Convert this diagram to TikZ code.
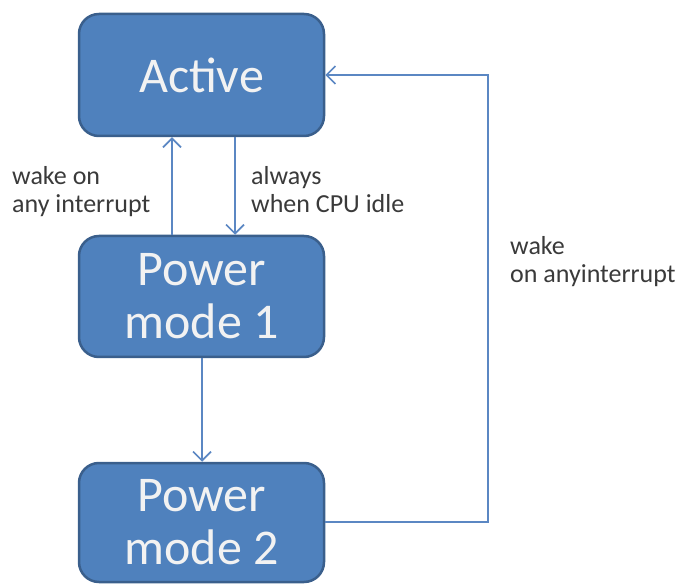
\documentclass[tikz,border=0pt]{standalone}
\usepackage{fontspec}
\setmainfont{Carlito}
\usetikzlibrary{arrows.meta}
\definecolor{boxfill}{HTML}{4F81BD}
\definecolor{boxline}{HTML}{3A5F8C}
\definecolor{linkc}{HTML}{5B87C3}
\definecolor{lblc}{HTML}{3A3A3A}
\begin{document}
\begin{tikzpicture}[x=1pt,y=-1pt,
  state/.style={draw=boxline, fill=boxfill, line width=2.5pt, rounded corners=20pt,
    minimum width=245pt, text=white!95!black, align=center,
    font=\fontsize{50}{53}\selectfont, inner sep=0pt},
  link/.style={draw=linkc, line width=1.6pt, -{Straight Barb[length=9pt,width=18pt,line width=1.6pt]}},
  lbl/.style={anchor=base west, inner sep=0pt, text=lblc, font=\fontsize{26}{28}\selectfont}]
\useasboundingbox (0,0) rectangle (683,585);
\node[state, minimum height=122pt] (act) at (201.5,75) {Active};
\node[state, minimum height=121pt] (pm1) at (201.5,296.5) {Power\\mode 1};
\node[state, minimum height=119pt] (pm2) at (201.5,522.5) {Power\\mode 2};
\coordinate (c1) at (488,522);
\coordinate (c2) at (488,75);
\draw[link] (pm1.north -| 172,0) -- (act.south -| 172,0);
\draw[link] (act.south -| 235,0) -- (pm1.north -| 235,0);
\draw[link] (pm1.south -| 202,0) -- (pm2.north -| 202,0);
\draw[link] (pm2.east |- c1) -- (c1) -- (c2) -- (act.east |- c2);
\node[lbl] (l1a) at (12,185) {wake on};
\node[lbl] (l1b) at (12,213) {any interrupt};
\node[lbl] (l2a) at (251,185) {always};
\node[lbl] (l2b) at (251,213) {when CPU idle};
\node[lbl] (l3a) at (510,255) {wake};
\node[lbl] (l3b) at (510,283) {on anyinterrupt};
\end{tikzpicture}
\end{document}
